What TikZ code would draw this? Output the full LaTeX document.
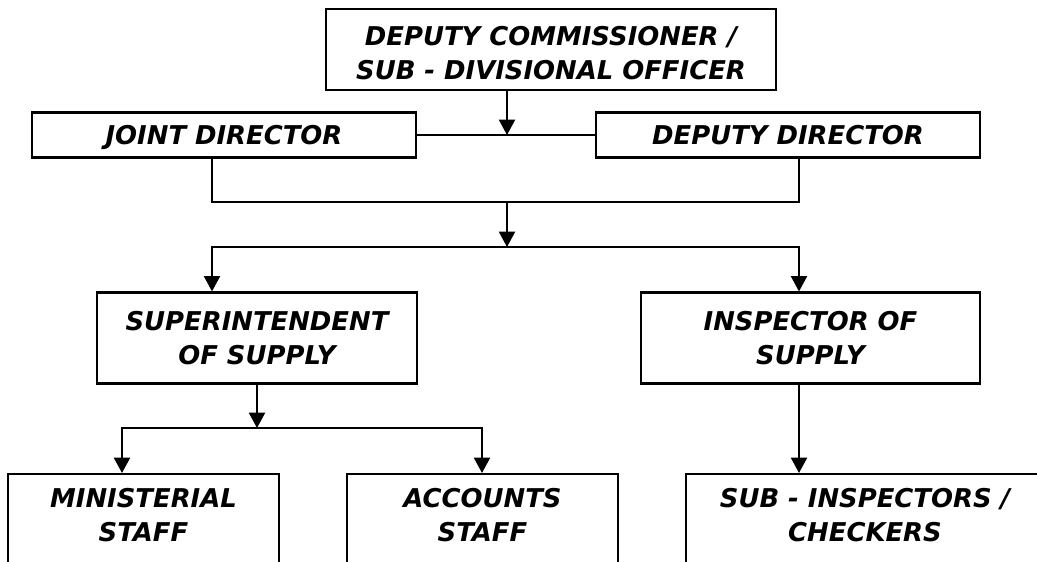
\documentclass[tikz,border=0pt]{standalone}
\usepackage{fontspec}
\setmainfont{DejaVu Sans}
\usetikzlibrary{arrows.meta}
\begin{document}
\begin{tikzpicture}[x=0.75pt,y=-0.75pt,
  lab/.style={font=\fontsize{19.4pt}{25.5pt}\selectfont\bfseries\itshape, align=center},
  box/.style={draw, line width=1.6pt, inner sep=0pt, lab},
  txt/.style={inner sep=0pt, lab},
  conn/.style={line width=1.6pt, line cap=rect},
  arr/.style={conn, -{Triangle[length=11.5pt,width=12pt]}}]
\useasboundingbox (0,0) rectangle (1037,561);
\clip (0,0) rectangle (1037,561);
% boxes
\node[box, minimum width=337.5pt, minimum height=60.75pt] (top) at (551,49.5) {};
\node[txt] (ttop) at (551,53) {DEPUTY COMMISSIONER /\\SUB - DIVISIONAL OFFICER};
\node[box, minimum width=288pt, minimum height=33.75pt, text depth=0pt] (jd) at (224,135) {JOINT DIRECTOR};
\node[box, minimum width=288pt, minimum height=33.75pt, text depth=0pt] (dd) at (788,135) {DEPUTY DIRECTOR};
\node[box, minimum width=240pt, minimum height=68.25pt] (sup) at (257,338) {SUPERINTENDENT\\OF SUPPLY};
\node[box, minimum width=254.25pt, minimum height=68.25pt] (ins) at (810.5,338) {INSPECTOR OF\\SUPPLY};
\node[box, minimum width=203.25pt, minimum height=97.5pt, anchor=north] (min) at (143.5,473) {};
\node[box, minimum width=203.25pt, minimum height=97.5pt, anchor=north] (acc) at (482.5,473) {};
\node[box, minimum width=268.5pt, minimum height=97.5pt, anchor=north] (subins) at (865,473) {};
\node[txt] (tmin) at (143.5,515) {MINISTERIAL\\STAFF};
\node[txt] (tacc) at (482.5,515) {ACCOUNTS\\STAFF};
\node[txt] (tsub) at (865,515) {SUB - INSPECTORS /\\CHECKERS};
% junction points
\coordinate (j1) at (507,135);
\coordinate (b1) at (507,202);
\coordinate (bl) at (212,202);
\coordinate (br) at (799,202);
\coordinate (j2) at (507,247);
\coordinate (hl) at (212,247);
\coordinate (hr) at (799,247);
\coordinate (j3) at (257,428);
\coordinate (ml) at (122,428);
\coordinate (mr) at (482,428);
% connectors
\draw[arr] (top.south -| j1) -- (j1);
\draw[conn] (jd.east) -- (dd.west);
\draw[conn] (jd.south -| bl) -- (bl) -- (br) -- (dd.south -| br);
\draw[arr] (b1) -- (j2);
\draw[arr] (hr) -- (hl) -- (sup.north -| hl);
\draw[arr] (hr) -- (ins.north -| hr);
\draw[arr] (sup.south) -- (j3);
\draw[arr] (mr) -- (ml) -- (min.north -| ml);
\draw[arr] (mr) -- (acc.north -| mr);
\draw[arr] (ins.south -| hr) -- (subins.north -| hr);
\end{tikzpicture}
\end{document}
